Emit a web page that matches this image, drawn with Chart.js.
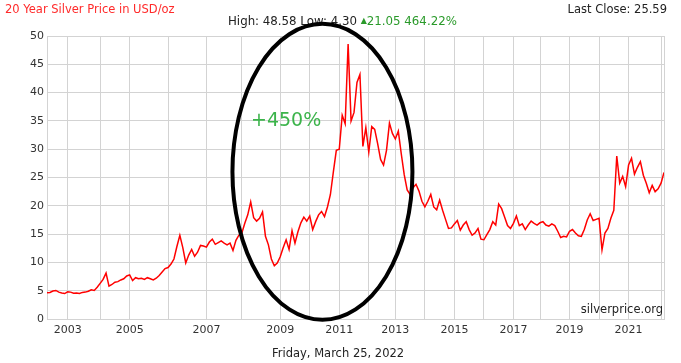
<!DOCTYPE html>
<html>
<head>
<meta charset="utf-8">
<script src="https://cdn.jsdelivr.net/npm/chart.js@4.4.1/dist/chart.umd.min.js"></script>
<style>
  body { margin: 0; background: #fff; font-family: "DejaVu Sans", Verdana, sans-serif; }
  #wrap { position: relative; width: 681px; height: 363px; overflow: hidden; }
  #wrap canvas { position: absolute; left: 0; top: 0; }
</style>
</head>
<body>
<div id="wrap">
  <canvas id="silverChart" width="681" height="363"></canvas>
</div>
<script>
// silver price samples, one small array per calendar year (USD/oz)
const years = [2002, 2003, 2004, 2005, 2006, 2007, 2008, 2009, 2010, 2011, 2012,
  2013, 2014, 2015, 2016, 2017, 2018, 2019, 2020, 2021, 2022];

const price2002 = [4.65, 4.7, 4.95, 5.05, 4.75, 4.6, 4.5];
const price2003 = [4.8, 4.75, 4.55, 4.6, 4.5, 4.7, 4.75, 4.9, 5.15, 5.05, 5.6];
const price2004 = [6.3, 7.0, 8.1, 5.8, 6.1, 6.5, 6.6, 6.9, 7.1, 7.6];
const price2005 = [7.8, 6.8, 7.3, 7.1, 7.2, 7.0, 7.3, 7.1, 6.9, 7.2, 7.7, 8.3, 8.9];
const price2006 = [9.1, 9.7, 10.6, 12.8, 14.8, 12.6, 9.9, 11.3, 12.3, 11.1, 11.8, 13.0, 12.9];
const price2007 = [12.7, 13.6, 14.1, 13.2, 13.5, 13.8, 13.4, 13.1, 13.4, 12.1, 13.9, 14.8];
const price2008 = [15.2, 16.9, 18.4, 20.7, 17.9, 17.3, 17.8, 18.9, 14.6, 13.1, 10.6, 9.4, 9.9];
const price2009 = [11.0, 12.6, 14.0, 12.3, 15.6, 13.4, 15.4, 17.0, 18.0, 17.3];
const price2010 = [18.2, 15.8, 17.2, 18.4, 19.0, 18.1, 19.8, 22.0, 26.0, 29.8];
const price2011 = [30.0, 36.0, 34.5, 48.6, 35.0, 36.5, 41.8, 43.2, 30.5, 33.8];
const price2012 = [29.5, 34.0, 33.5, 31.0, 28.2, 27.2, 29.8, 34.6, 32.8];
const price2013 = [31.8, 33.2, 29.2, 25.5, 22.8, 22.0, 23.2, 23.8, 22.6, 20.8];
const price2014 = [19.8, 20.8, 22.0, 19.8, 19.3, 21.0, 19.2, 17.6, 16.0, 16.1];
const price2015 = [16.8, 17.4, 15.7, 16.6, 17.2, 15.8, 14.8, 15.2, 16.0, 14.1];
const price2016 = [14.0, 14.9, 15.8, 17.2, 16.6, 20.3, 19.5, 18.0, 16.5, 16.0];
const price2017 = [16.9, 18.2, 16.5, 16.8, 15.8, 16.6, 17.3, 16.9, 16.6];
const price2018 = [17.0, 17.2, 16.6, 16.4, 16.8, 16.5, 15.5, 14.4, 14.6, 14.5];
const price2019 = [15.5, 15.8, 15.2, 14.7, 14.6, 15.8, 17.5, 18.6, 17.4, 17.6];
const price2020 = [17.8, 12.2, 15.2, 16.0, 17.8, 19.2, 28.8, 24.0, 25.2, 23.4];
const price2021 = [27.2, 28.4, 25.6, 26.8, 27.8, 25.4, 24.0, 22.3, 23.6, 22.5, 23.0];
const price2022 = [24.0, 25.9];

const labelYears = [2003, 2005, 2007, 2009, 2011, 2013, 2015, 2017, 2019, 2021];
const ringCentre = [93.3, 26]; // point index, price

const byYear = [price2002, price2003, price2004, price2005, price2006, price2007, price2008,
  price2009, price2010, price2011, price2012, price2013, price2014, price2015, price2016,
  price2017, price2018, price2019, price2020, price2021, price2022];

// flatten into one series; remember where each new year begins
const points = [];
const yearStart = {};
byYear.forEach((arr, k) => {
  if (k > 0) yearStart[points.length] = years[k];
  arr.forEach(v => points.push({ x: points.length, y: v }));
});
const lastIdx = points.length - 1;
const gridIdx = Object.keys(yearStart).map(Number).concat([lastIdx]);

const gridGrey = '#d3d3d3';
const tickFont = { family: 'DejaVu Sans', size: 11 };
const FAM = '"DejaVu Sans", Verdana, sans-serif';

// header / footer text plus the black ring over the 2008-2013 run-up
const decorPlugin = {
  id: 'decor',
  afterDraw(chart) {
    const { ctx, scales: { x, y } } = chart;
    ctx.save();
    ctx.textBaseline = 'middle';

    ctx.font = '11.5px ' + FAM;
    ctx.textAlign = 'left';
    ctx.fillStyle = '#ff2a2a';
    ctx.fillText('20 Year Silver Price in USD/oz', 5, 10.5);

    ctx.textAlign = 'right';
    ctx.fillStyle = '#222';
    ctx.fillText('Last Close: 25.59', 667, 10.5);
    ctx.fillText('silverprice.org', 663, 310.5);

    ctx.textAlign = 'left';
    ctx.fillText('Friday, March 25, 2022', 272, 354.5);

    // stats line: dark part, small green triangle, green change figures
    let sx = 228;
    ctx.font = '11.8px ' + FAM;
    const head = 'High: 48.58 Low: 4.30 ';
    ctx.fillText(head, sx, 21.5);
    sx += ctx.measureText(head).width;
    ctx.fillStyle = '#2a9a2a';
    ctx.font = '8px ' + FAM;
    ctx.fillText('▲', sx, 21);
    sx += ctx.measureText('▲').width;
    ctx.font = '11.8px ' + FAM;
    ctx.fillText('21.05 464.22%', sx, 21.5);

    ctx.font = '19px ' + FAM;
    ctx.fillStyle = '#3cb44b';
    ctx.fillText('+450%', 251, 121);

    ctx.beginPath();
    ctx.ellipse(x.getPixelForValue(ringCentre[0]), y.getPixelForValue(ringCentre[1]), 90, 148, 0, 0, Math.PI * 2);
    ctx.lineWidth = 4;
    ctx.strokeStyle = '#000';
    ctx.stroke();
    ctx.restore();
  }
};

new Chart(document.getElementById('silverChart'), {
  type: 'line',
  data: {
    datasets: [{
      data: points,
      borderColor: '#ff0000',
      borderWidth: 1.5,
      pointRadius: 0
    }]
  },
  options: {
    responsive: false,
    animation: false,
    events: [],
    layout: { padding: { left: 0, top: 36, right: 17, bottom: 24 } },
    plugins: { legend: { display: false }, tooltip: { enabled: false } },
    scales: {
      x: {
        type: 'linear',
        min: 0,
        max: lastIdx,
        afterBuildTicks: s => { s.ticks = gridIdx.map(v => ({ value: v })); },
        grid: { color: gridGrey, drawTicks: false },
        border: { color: gridGrey },
        ticks: {
          autoSkip: false,
          maxRotation: 0,
          padding: 5,
          color: '#333',
          font: tickFont,
          callback: v => labelYears.includes(yearStart[v]) ? String(yearStart[v]) : ''
        },
        afterFit: s => { s.height = 20; }
      },
      y: {
        min: 0,
        max: 50,
        grid: { color: gridGrey, drawTicks: false },
        border: { color: gridGrey },
        ticks: { stepSize: 5, padding: 3, color: '#333', font: tickFont },
        afterFit: s => { s.width = 47; }
      }
    }
  },
  plugins: [decorPlugin]
});
</script>
</body>
</html>
